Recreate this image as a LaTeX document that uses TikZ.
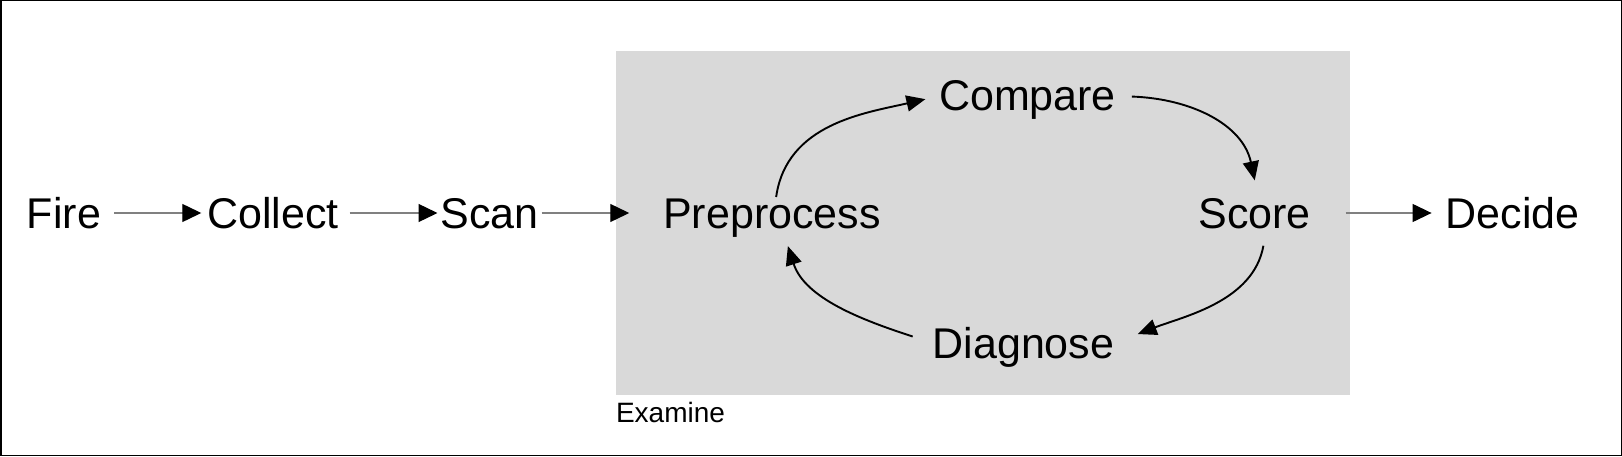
\documentclass[tikz,border=0pt]{standalone}
\usepackage{fontspec}
\setmainfont{Liberation Sans}
\usepackage{tikz}
\usetikzlibrary{arrows.meta,positioning}

\definecolor{boxgray}{RGB}{217,217,217}

\begin{document}
\begin{tikzpicture}[x=1pt,y=1pt,
    stage/.style={inner sep=0pt,outer sep=0pt,text height=30pt,text depth=0pt,
      font=\fontsize{43}{51}\selectfont},
    flow/.style={draw=black!50,line width=1.3pt,-{Triangle[length=19pt,width=18pt,color=black]}},
    cycle/.style={draw=black,line width=1.9pt,-{Triangle[length=19pt,width=16pt]}}]
      \useasboundingbox (0,0) rectangle (1622,456);
      \draw[line width=1.5pt] (0.75,0.75) rectangle (1621.25,455.25);
      \node (box) [fill=boxgray,inner sep=0pt,minimum width=734pt,minimum height=344pt] at (983,233) {};
      \node (examine) [anchor=base west,inner sep=0pt,font=\fontsize{28}{33}\selectfont]
        at ([yshift=-27pt]box.south west) {Examine};

      \node (fire)    [stage] at (64,243)     {Fire};
      \node (collect) [stage] at (273,243)    {Collect};
      \node (scan)    [stage] at (489.5,243)  {Scan};
      \node (pre)     [stage] at (772,243)    {Preprocess};
      \node (cmp)     [stage] at (1027.5,360) {Compare};
      \node (score)   [stage] at (1254.5,243) {Score};
      \node (diag)    [stage] at (1023.5,113) {Diagnose};
      \node (decide)  [stage] at (1512.5,243) {Decide};

      \draw[flow, shorten <=13pt, shorten >=6pt]  (fire) -- (collect);
      \draw[flow, shorten <=11pt, shorten >=3pt]  (collect) -- (scan);
      \draw[flow, shorten <=3pt,  shorten >=34pt] (scan.east) -- (scan.east -| pre.west);
      \draw[flow, shorten <=35pt, shorten >=14pt] (score) -- (decide);

      \draw[cycle, shorten <=1pt,  shorten >=14pt] ([xshift=4pt]pre.north) to[out=82,in=193] (cmp.west);
      \draw[cycle, shorten <=16pt, shorten >=18pt] (cmp.east) to[out=-2,in=102,looseness=1.1] ([xshift=4pt]score.north);
      \draw[cycle, shorten <=18pt, shorten >=25pt] ([xshift=12pt]score.south) to[out=-100,in=21] (diag.east);
      \draw[cycle, shorten <=21pt, shorten >=19pt] (diag.west) to[out=162,in=-72] ([xshift=10pt]pre.south);
    \end{tikzpicture}
\end{document}
